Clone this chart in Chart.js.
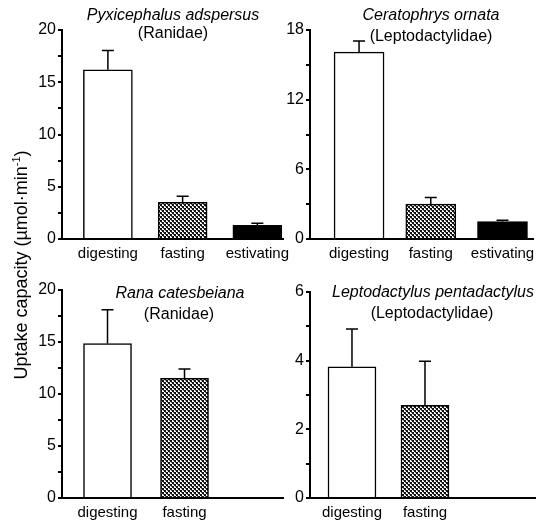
<!DOCTYPE html>
<html>
<head>
<meta charset="utf-8">
<script src="https://cdn.jsdelivr.net/npm/chart.js@4.4.1/dist/chart.umd.min.js"></script>
<style>
  html, body { margin:0; padding:0; background:#fff; }
  body { width:541px; height:525px; position:relative; overflow:hidden; font-family:"Liberation Sans", Arial, sans-serif; color:#000; }
  canvas { position:absolute; }
  .t { position:absolute; width:260px; text-align:center; font-size:16px; line-height:18px; white-space:nowrap; }
  .it { font-style:italic; }
  #ylab { position:absolute; width:280px; height:22px; line-height:22px; left:-119px; top:254px; text-align:center; font-size:18px; transform:rotate(-90deg); transform-origin:50% 50%; white-space:nowrap; }
  #ylab sup { font-size:11px; vertical-align:7px; line-height:0; }
</style>
</head>
<body>
<canvas id="c1" width="300" height="265" style="left:0;top:0"></canvas>
<canvas id="c2" width="271" height="265" style="left:270px;top:0"></canvas>
<canvas id="c3" width="300" height="263" style="left:0;top:262px"></canvas>
<canvas id="c4" width="271" height="263" style="left:270px;top:262px"></canvas>

<div class="t it" style="left:43px;top:6px">Pyxicephalus adspersus</div>
<div class="t" style="left:43px;top:24px">(Ranidae)</div>
<div class="t it" style="left:301px;top:6px">Ceratophrys ornata</div>
<div class="t" style="left:301px;top:27px">(Leptodactylidae)</div>
<div class="t it" style="left:50px;top:284px">Rana catesbeiana</div>
<div class="t" style="left:49px;top:305px">(Ranidae)</div>
<div class="t it" style="left:303px;top:283px">Leptodactylus pentadactylus</div>
<div class="t" style="left:302px;top:304px">(Leptodactylidae)</div>
<div id="ylab">Uptake capacity (µmol·min<sup>-1</sup>)</div>

<script>
// ---- data ----
const p1Categories = ['digesting', 'fasting', 'estivating'];
const p1Values = [16.2, 3.5, 1.3];
const p1Errors = [1.85, 0.6, 0.2];

const p2Categories = ['digesting', 'fasting', 'estivating'];
const p2Values = [16.1, 3.0, 1.5];
const p2Errors = [0.95, 0.57, 0.11];

const p3Categories = ['digesting', 'fasting'];
const p3Values = [14.85, 11.5];
const p3Errors = [3.25, 0.9];

const p4Categories = ['digesting', 'fasting'];
const p4Values = [3.82, 2.7];
const p4Errors = [1.1, 1.28];

const p1Ticks = { max: 20, step: 2.5, labelStep: 5 };
const p2Ticks = { max: 18, step: 3, labelStep: 6 };
const p3Ticks = { max: 20, step: 2.5, labelStep: 5 };
const p4Ticks = { max: 6, step: 1, labelStep: 2 };

// ---- styles ----
Chart.defaults.font.family = '"Liberation Sans", Arial, sans-serif';
Chart.defaults.color = '#000';

function makePattern() {
  const c = document.createElement('canvas');
  c.width = 4; c.height = 4;
  const g = c.getContext('2d');
  g.fillStyle = '#fff'; g.fillRect(0, 0, 4, 4);
  g.fillStyle = '#111';
  for (let y = 0; y < 4; y++) for (let x = 0; x < 4; x++) {
    if (((x >> 1) + (y >> 1)) % 2 === 0) g.fillRect(x, y, 1, 1);
  }
  g.fillStyle = '#666';
  g.fillRect(1, 2, 1, 1); g.fillRect(3, 0, 1, 1);
  return document.getElementById('c1').getContext('2d').createPattern(c, 'repeat');
}
const hatch = makePattern();
const fillFor = { digesting: '#fff', fasting: hatch, estivating: '#000' };

const errorBars = {
  id: 'errorBars',
  afterDatasetsDraw(chart, args, opts) {
    const ctx = chart.ctx;
    const ys = chart.scales.y;
    const meta = chart.getDatasetMeta(0);
    ctx.save();
    ctx.strokeStyle = '#000';
    ctx.lineWidth = 1.5;
    opts.values.forEach((v, i) => {
      const bar = meta.data[i];
      const yb = ys.getPixelForValue(v);
      const yt = ys.getPixelForValue(v + opts.errors[i]);
      ctx.beginPath();
      ctx.moveTo(bar.x, yb);
      ctx.lineTo(bar.x, yt);
      ctx.moveTo(bar.x - 6, yt);
      ctx.lineTo(bar.x + 6, yt);
      ctx.stroke();
    });
    ctx.restore();
  }
};

function panel(id, cats, vals, errs, tk, geo) {
  new Chart(document.getElementById(id), {
    type: 'bar',
    data: {
      datasets: [{
        data: vals.map((v, i) => ({ x: i, y: v })),
        backgroundColor: cats.map(c => fillFor[c]),
        borderColor: '#000',
        borderWidth: 1.5,
        borderSkipped: 'bottom',
        barThickness: geo.barW
      }]
    },
    options: {
      responsive: false,
      devicePixelRatio: 1,
      animation: false,
      events: [],
      layout: { padding: { top: geo.padTop, right: geo.padRight, left: 0, bottom: 0 } },
      plugins: {
        legend: { display: false },
        tooltip: { enabled: false },
        errorBars: { values: vals, errors: errs }
      },
      scales: {
        x: {
          type: 'linear',
          offset: false,
          bounds: 'data',
          min: geo.xMin,
          max: geo.xMax,
          grid: { display: false, drawTicks: false, offset: false },
          border: { display: true, color: '#000', width: 2 },
          afterBuildTicks: s => { s.ticks = cats.map((_, i) => ({ value: i })); },
          afterFit: s => { s.height = geo.xH; },
          ticks: {
            autoSkip: false, maxRotation: 0, padding: 6,
            font: { size: 15 },
            callback: v => cats[v] !== undefined ? cats[v] : ''
          }
        },
        y: {
          min: 0,
          max: tk.max,
          afterFit: s => { s.width = geo.yW; },
          afterBuildTicks: s => {
            const t = [];
            for (let v = 0; v <= tk.max + 1e-9; v += tk.step) t.push({ value: v });
            s.ticks = t;
          },
          grid: { display: true, drawOnChartArea: false, drawTicks: true, tickLength: 4, lineWidth: 2, color: '#000' },
          border: { display: true, color: '#000', width: 2 },
          ticks: {
            padding: 2,
            font: { size: 16 },
            callback: v => {
              const r = v / tk.labelStep;
              return Math.abs(r - Math.round(r)) < 1e-6 ? String(Math.round(v)) : '';
            }
          }
        }
      }
    },
    plugins: [errorBars]
  });
}

panel('c1', p1Categories, p1Values, p1Errors, p1Ticks,
  { padTop: 30, padRight: 17, yW: 62, xH: 26, xMin: -0.614, xMax: 2.343, barW: 49 });
panel('c2', p2Categories, p2Values, p2Errors, p2Ticks,
  { padTop: 30, padRight: 6, yW: 40, xH: 26, xMin: -0.684, xMax: 2.43, barW: 50 });
panel('c3', p3Categories, p3Values, p3Errors, p3Ticks,
  { padTop: 28, padRight: 17, yW: 62, xH: 27, xMin: -0.591, xMax: 2.279, barW: 48 });
panel('c4', p4Categories, p4Values, p4Errors, p4Ticks,
  { padTop: 30, padRight: 6, yW: 40, xH: 27, xMin: -0.575, xMax: 2.507, barW: 48 });
</script>
</body>
</html>
